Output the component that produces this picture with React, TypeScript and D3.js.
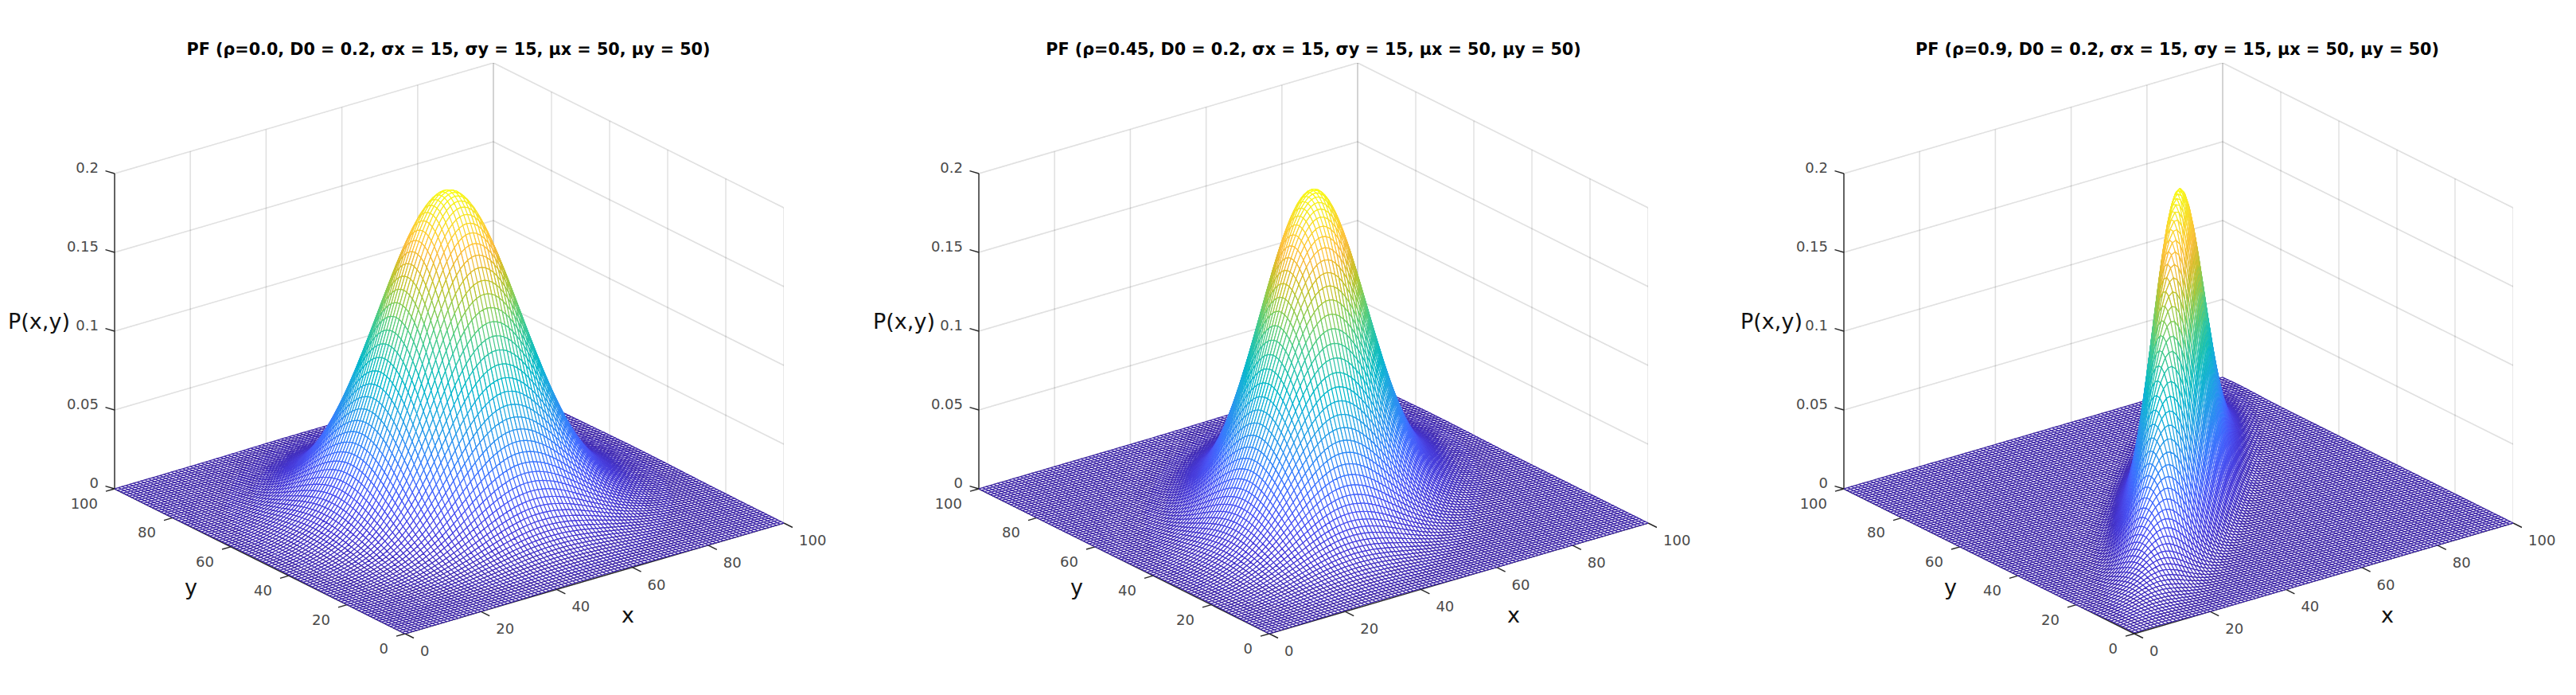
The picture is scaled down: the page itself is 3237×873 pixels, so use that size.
import React, { useEffect, useRef } from 'react';
import * as d3 from 'd3';

// Values printed in the panel titles
const rhoValues = [0.0, 0.45, 0.9];
const rhoLabels = ['0.0', '0.45', '0.9'];
const D0 = 0.2;
const sigmaX = 15;
const sigmaY = 15;
const muX = 50;
const muY = 50;

// Tick labels
const xTicks = [0, 20, 40, 60, 80, 100];
const yTicks = [0, 20, 40, 60, 80, 100];
const zTicks = [0, 0.05, 0.1, 0.15, 0.2];
const zTickLabels = ['0', '0.05', '0.1', '0.15', '0.2'];

// Parula colormap stops
const parulaStops = [0, 4, 9, 14, 18, 22, 26, 29, 32, 35, 38, 41, 44, 47, 50, 52, 54, 57, 60, 63];
const parulaColors = [
  '#3e26a8', '#4537d5', '#4852f4', '#3e6fff', '#2e87f7', '#259be8', '#18addb', '#01b8ca', '#19bfb6', '#31c69f',
  '#4acb84', '#72cd64', '#9dc943', '#c5c22a', '#e6bb2d', '#f8ba3d', '#fec338', '#fad62d', '#f5e924', '#f9fb15',
];

// Panel placement
const originX = [509, 1595, 2682];
const originY = 796;
const ylabelX = [240, 1353, 2451];
const xlabelX = [789, 1902, 3000];
const zlabelX = [49, 1136, 2226];
const titleX = [563.5, 1650.5, 2736];

// The mesh has 10201 nodes per panel, too many to read one at a time, so it is
// evaluated from the parameters in the title (bivariate gaussian scaled to D0).
const surface = (x: number, y: number, rho: number) => {
  const dx = (x - muX) / sigmaX;
  const dy = (y - muY) / sigmaY;
  return D0 * Math.exp((-1 / (2 * (1 - rho * rho))) * (dx * dx - 2 * rho * dx * dy + dy * dy));
};

const App: React.FC = () => {
  const svgRef = useRef<SVGSVGElement>(null);

  useEffect(() => {
    if (!svgRef.current) return;
    const svg = d3.select(svgRef.current);
    svg.selectAll('*').remove();

    const defs = svg.append('defs');
    defs.append('filter').attr('id', 'soft').attr('x', 0).attr('y', 0).attr('width', 1).attr('height', 1)
      .attr('filterUnits', 'objectBoundingBox')
      .append('feGaussianBlur').attr('stdDeviation', 0.55);

    // Orthographic projection, one scale per screen component
    const xToSx = d3.scaleLinear().domain([0, 100]).range([0, 476]);
    const xToSy = d3.scaleLinear().domain([0, 100]).range([0, -139]);
    const yToSx = d3.scaleLinear().domain([0, 100]).range([0, -365]);
    const yToSy = d3.scaleLinear().domain([0, 100]).range([0, -182]);
    const zToSy = d3.scaleLinear().domain([0, 0.2]).range([0, -396]);

    const parula = d3.scaleLinear<string>()
      .domain(parulaStops)
      .range(parulaColors)
      .interpolate(d3.interpolateRgb);

    const gridValues = d3.range(0, 101);

    rhoValues.forEach((rho, p) => {
      const project = (x: number, y: number, z: number): [number, number] => [
        originX[p] + xToSx(x) + yToSx(y),
        originY + xToSy(x) + yToSy(y) + zToSy(z),
      ];
      const g = svg.append('g');
      const line = d3.line();

      // Back walls and floor grid
      const grid = g.append('g').attr('fill', 'none').attr('stroke', '#262626')
        .attr('stroke-opacity', 0.15).attr('stroke-width', 1.5).attr('filter', 'url(#soft)');
      const gridLine = (a: [number, number, number], b: [number, number, number]) =>
        grid.append('path').attr('d', line([project(...a), project(...b)]));
      xTicks.forEach(x => {
        gridLine([x, 100, 0], [x, 100, 0.2]);
        gridLine([x, 0, 0], [x, 100, 0]);
      });
      yTicks.forEach(y => {
        gridLine([100, y, 0], [100, y, 0.2]);
        gridLine([0, y, 0], [100, y, 0]);
      });
      zTicks.forEach(z => {
        gridLine([0, 100, z], [100, 100, z]);
        gridLine([100, 100, z], [100, 0, z]);
      });

      // Axis lines and ticks
      const axes = g.append('g').attr('fill', 'none').attr('stroke', '#262626')
        .attr('stroke-width', 1.4).attr('filter', 'url(#soft)');
      axes.append('path').attr('d', line([project(0, 100, 0), project(0, 100, 0.2)]));
      axes.append('path').attr('d', line([project(0, 0, 0), project(100, 0, 0)]));
      axes.append('path').attr('d', line([project(0, 0, 0), project(0, 100, 0)]));
      xTicks.forEach(x => {
        const [sx, sy] = project(x, 0, 0);
        axes.append('path').attr('d', line([[sx, sy], [sx + 11, sy + 5.5]]));
      });
      yTicks.forEach(y => {
        const [sx, sy] = project(0, y, 0);
        axes.append('path').attr('d', line([[sx, sy], [sx - 11, sy + 3.2]]));
      });
      zTicks.forEach(z => {
        const [sx, sy] = project(0, 100, z);
        axes.append('path').attr('d', line([[sx, sy], [sx - 11.5, sy - 3.4]]));
      });

      // Mesh with hidden lines: cells painted far corner first, white face and
      // coloured edges. Neighbouring cells of one colour share one path.
      const runs: { level: number; d: string }[] = [];
      for (let j = gridValues.length - 2; j >= 0; j--) {
        for (let i = gridValues.length - 2; i >= 0; i--) {
          const x0 = gridValues[i], x1 = gridValues[i + 1];
          const y0 = gridValues[j], y1 = gridValues[j + 1];
          const zs = [surface(x0, y0, rho), surface(x1, y0, rho), surface(x1, y1, rho), surface(x0, y1, rho)];
          const level = Math.round((d3.mean(zs)! / D0) * 63);
          const pts = [project(x0, y0, zs[0]), project(x1, y0, zs[1]), project(x1, y1, zs[2]), project(x0, y1, zs[3])];
          const d = 'M' + pts.map(q => q[0].toFixed(1) + ',' + q[1].toFixed(1)).join('L') + 'Z';
          const last = runs[runs.length - 1];
          if (last && last.level === level) last.d += d;
          else runs.push({ level, d });
        }
      }
      g.append('g').attr('filter', 'url(#soft)').attr('stroke-width', 1.2).attr('fill', '#fff')
        .selectAll('path').data(runs).join('path')
        .attr('stroke', d => parula(d.level))
        .attr('d', d => d.d);

      // Text
      const text = g.append('g').attr('font-family', '"DejaVu Sans"');
      text.append('text').attr('x', titleX[p]).attr('y', 62).attr('dy', '0.36em').attr('text-anchor', 'middle')
        .attr('font-weight', 'bold').attr('font-size', 20.7).attr('fill', '#000')
        .text(`PF (ρ=${rhoLabels[p]}, D0 = ${D0}, σx = ${sigmaX}, σy = ${sigmaY}, μx = ${muX}, μy = ${muY})`);
      const labels: [string, number, number][] = [
        ['P(x,y)', zlabelX[p], 405],
        ['y', ylabelX[p], 739],
        ['x', xlabelX[p], 774],
      ];
      labels.forEach(([s, lx, ly]) => {
        text.append('text').attr('x', lx).attr('y', ly).attr('dy', '0.3em').attr('text-anchor', 'middle')
          .attr('font-size', 27).attr('fill', '#111').text(s);
      });
      const ticks = text.append('g').attr('font-size', 18).attr('fill', '#4a4a4a');
      xTicks.forEach(x => {
        const [sx, sy] = project(x, 0, 0);
        ticks.append('text').attr('x', sx + 19).attr('y', sy + 21.5).attr('dy', '0.36em').text(x);
      });
      yTicks.forEach(y => {
        const [sx, sy] = project(0, y, 0);
        ticks.append('text').attr('x', sx - 21).attr('y', sy + 18.5).attr('dy', '0.36em')
          .attr('text-anchor', 'end').text(y);
      });
      zTicks.forEach((z, k) => {
        const [sx, sy] = project(0, 100, z);
        ticks.append('text').attr('x', sx - 20).attr('y', sy - 7.5).attr('dy', '0.36em')
          .attr('text-anchor', 'end').text(zTickLabels[k]);
      });
    });
  }, []);

  return (
    <svg
      ref={svgRef}
      width={3237}
      height={873}
      style={{ position: 'absolute', left: 0, top: 0, background: '#fff', display: 'block' }}
    />
  );
};

export default App;
